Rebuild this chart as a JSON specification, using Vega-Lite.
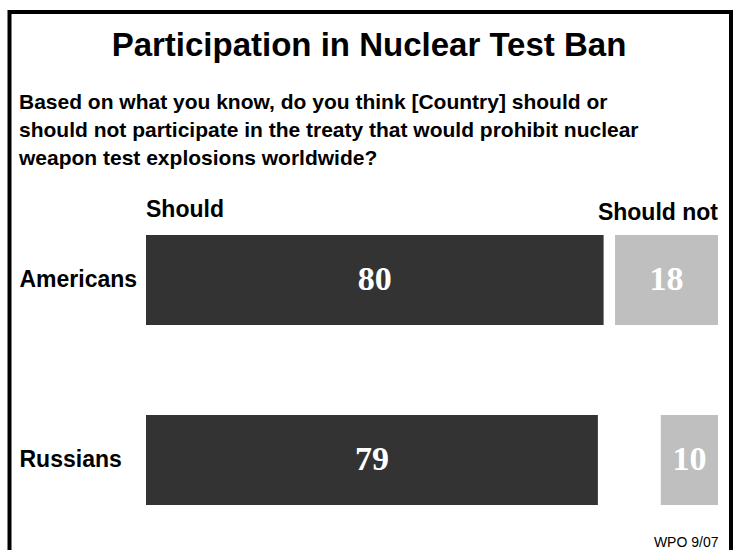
{
  "$schema": "https://vega.github.io/schema/vega-lite/v6.json",
  "width": 721.5,
  "height": 538,
  "autosize": {"type": "none"},
  "padding": {"left": 9.5, "top": 12, "right": 5, "bottom": 0},
  "background": "white",
  "view": {"stroke": "black", "strokeWidth": 4, "strokeDash": [1259.5, 721.5, 600]},
  "title": {
    "text": ["Based on what you know, do you think [Country] should or", "should not participate in the treaty that would prohibit nuclear", "weapon test explosions worldwide?"],
    "anchor": "start",
    "frame": "group",
    "align": "left",
    "dx": 9.5,
    "offset": -157,
    "fontSize": 21,
    "lineHeight": 28,
    "font": "Liberation Sans",
    "fontWeight": "bold",
    "color": "black"
  },
  "data": {
    "values": [
      {"country": "Americans", "response": "Should", "value": 80},
      {"country": "Americans", "response": "Should not", "value": 18},
      {"country": "Russians", "response": "Should", "value": 79},
      {"country": "Russians", "response": "Should not", "value": 10}
    ]
  },
  "layer": [
    {
      "transform": [{"filter": "datum.response === 'Should'"}],
      "mark": {"type": "bar", "color": "#333333"},
      "encoding": {
        "x": {
          "field": "value", "type": "quantitative",
          "scale": {"domain": [0, 100], "range": [136.5, 708.5]},
          "axis": {
            "orient": "top", "domain": false, "labels": false, "ticks": false, "grid": false,
            "title": "Participation in Nuclear Test Ban",
            "titleFont": "Liberation Sans", "titleFontSize": 33, "titleFontWeight": "bold", "titleColor": "black",
            "titleX": 359, "titleY": 43, "titleAlign": "center", "titleBaseline": "alphabetic"
          }
        },
        "y": {
          "field": "country", "type": "nominal",
          "scale": {"range": [223, 493], "paddingInner": 0.5, "paddingOuter": 0},
          "axis": {
            "title": null, "domain": false, "ticks": false, "tickSize": 0, "grid": false,
            "labelPadding": -9.5, "labelAlign": "left", "labelFont": "Liberation Sans",
            "labelFontSize": 23, "labelFontWeight": "bold", "labelColor": "black", "labelLimit": 300
          }
        }
      }
    },
    {
      "transform": [{"filter": "datum.response === 'Should not'"}],
      "mark": {"type": "bar", "color": "#bfbfbf"},
      "encoding": {
        "x": {
          "field": "value", "type": "quantitative",
          "scale": {"domain": [0, 100], "range": [708.5, 136.5]},
          "axis": {
            "orient": "bottom", "domain": false, "labels": false, "ticks": false, "grid": false,
            "title": "WPO 9/07",
            "titleFont": "Liberation Sans", "titleFontSize": 14, "titleFontWeight": "normal", "titleColor": "black",
            "titleX": 708.5, "titleY": -4, "titleAlign": "right", "titleBaseline": "alphabetic"
          }
        },
        "y": {"field": "country", "type": "nominal"}
      }
    },
    {
      "transform": [{"filter": "datum.response === 'Should'"}],
      "mark": {"type": "text", "font": "Liberation Serif", "fontSize": 34, "fontWeight": "bold", "color": "white", "align": "center", "baseline": "middle"},
      "encoding": {
        "x": {"field": "value", "type": "quantitative", "scale": {"domain": [0, 200], "range": [136.5, 708.5]}, "axis": null},
        "y": {"field": "country", "type": "nominal"},
        "text": {"field": "value", "type": "quantitative"}
      }
    },
    {
      "transform": [{"filter": "datum.response === 'Should not'"}],
      "mark": {"type": "text", "font": "Liberation Serif", "fontSize": 34, "fontWeight": "bold", "color": "white", "align": "center", "baseline": "middle"},
      "encoding": {
        "x": {"field": "value", "type": "quantitative", "scale": {"domain": [0, 200], "range": [708.5, 136.5]}, "axis": null},
        "y": {"field": "country", "type": "nominal"},
        "text": {"field": "value", "type": "quantitative"}
      }
    },
    {
      "transform": [{"filter": "datum.response === 'Should' && datum.country === 'Americans'"}],
      "mark": {"type": "text", "font": "Liberation Sans", "fontSize": 23, "fontWeight": "bold", "color": "black", "align": "left", "baseline": "alphabetic", "dy": -63},
      "encoding": {
        "x": {"datum": 0, "type": "quantitative", "scale": {"domain": [0, 100], "range": [136.5, 708.5]}, "axis": null},
        "y": {"field": "country", "type": "nominal"},
        "text": {"field": "response", "type": "nominal"}
      }
    },
    {
      "transform": [{"filter": "datum.response === 'Should not' && datum.country === 'Americans'"}],
      "mark": {"type": "text", "font": "Liberation Sans", "fontSize": 23, "fontWeight": "bold", "color": "black", "align": "right", "baseline": "alphabetic", "dy": -60},
      "encoding": {
        "x": {"datum": 0, "type": "quantitative", "scale": {"domain": [0, 100], "range": [708.5, 136.5]}, "axis": null},
        "y": {"field": "country", "type": "nominal"},
        "text": {"field": "response", "type": "nominal"}
      }
    }
  ],
  "resolve": {"scale": {"x": "independent"}},
  "config": {
    "axis": {"grid": false}
  }
}
